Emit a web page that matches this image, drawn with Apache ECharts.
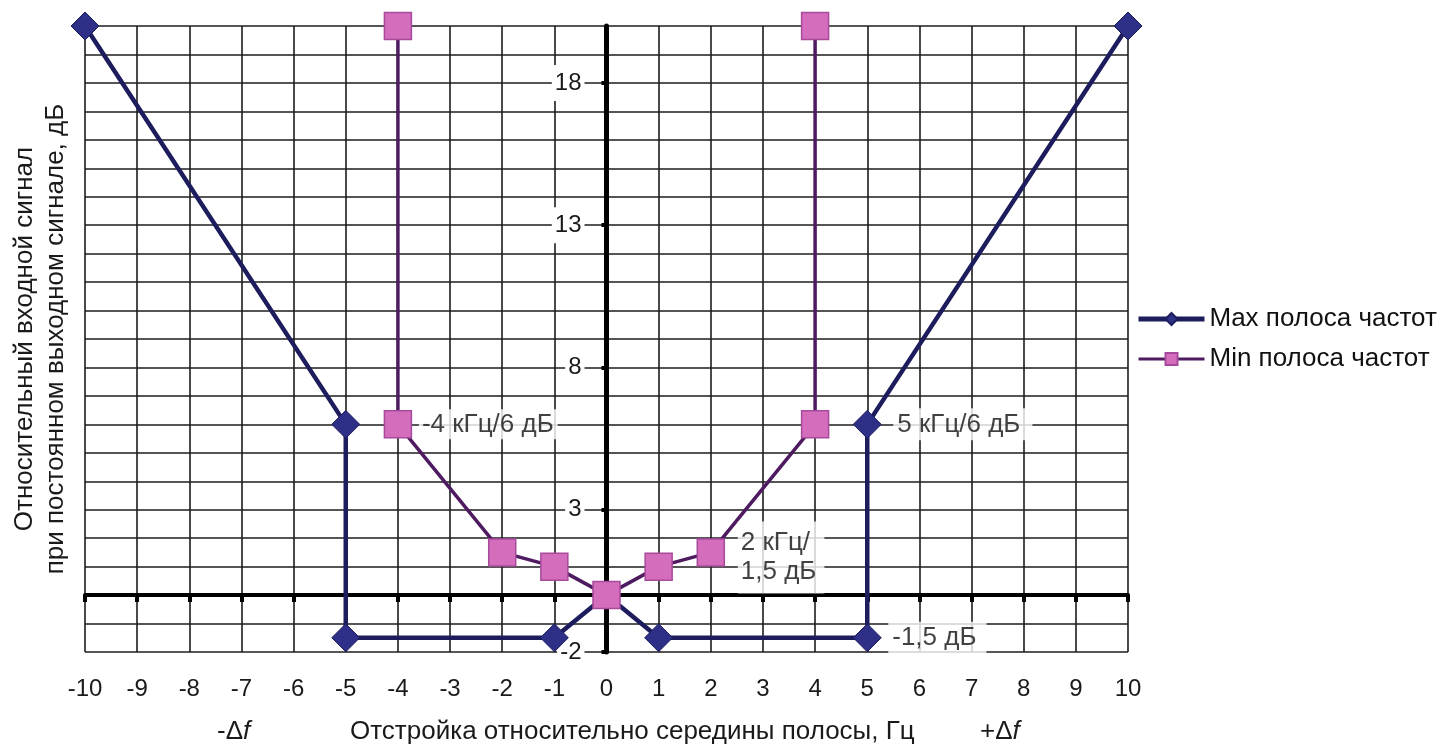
<!DOCTYPE html>
<html>
<head>
<meta charset="utf-8">
<script src="https://cdn.jsdelivr.net/npm/echarts@6/dist/echarts.min.js"></script>
<style>
  html, body { margin: 0; padding: 0; background: #fff; }
  #chart { width: 1445px; height: 751px; }
</style>
</head>
<body>
<div id="chart"></div>
<script>
// полосы частот: отстройка (кГц) / относительный входной сигнал (дБ)
var maxX = [-10, -5, -5, -1, 0, 1, 5, 5, 10];
var maxY = [20, 6, -1.5, -1.5, 0, -1.5, -1.5, 6, 20];
var minX = [-4, -4, -2, -1, 0, 1, 2, 4, 4];
var minY = [20, 6, 1.5, 1, 0, 1, 1.5, 6, 20];
var yTickLabels = [-2, 3, 8, 13, 18];
var noteX = [-4, 5, 2, 5];
var noteY = [6, 6, 1.5, -1.5];
var noteText = ['-4 кГц/6 дБ', '5 кГц/6 дБ', '2 кГц/\n1,5 дБ', '-1,5 дБ'];

var FONT = 'Liberation Sans, Arial, sans-serif';
var GRID_L = 85, GRID_R = 317, GRID_W = 1445 - GRID_L - GRID_R;

function pairs(xs, ys) {
  return xs.map(function (x, i) { return [x, ys[i]]; });
}

// рамки у подписей
var noteLabels = [
  { distance: 21, padding: [1, 4, 1, 3] },
  { distance: 26, padding: [2, 12, 2, 4] },
  { distance: 27, padding: [11, 8, 3, 3], offset: [0, 5], lineHeight: 29 },
  { distance: 21, padding: [3, 10, 1, 4] }
];
var noteData = noteX.map(function (x, i) {
  var l = noteLabels[i];
  return {
    value: [x, noteY[i]],
    label: {
      show: true, position: 'right', formatter: noteText[i],
      distance: l.distance, padding: l.padding, offset: l.offset || [0, 0],
      lineHeight: l.lineHeight || 28
    }
  };
});

var chart = echarts.init(document.getElementById('chart'));
var option = {
  animation: false,
  textStyle: { fontFamily: FONT },
  grid: { left: GRID_L, right: GRID_R, top: 26, bottom: 99 },
  legend: {
    orient: 'vertical', left: 1136, top: 306, padding: 0,
    itemWidth: 66, itemHeight: 15, itemGap: 14,
    data: [
      { name: 'Max полоса частот', lineStyle: { width: 5 } },
      { name: 'Min полоса частот', lineStyle: { width: 3 } }
    ],
    textStyle: { fontSize: 26, color: '#111', fontFamily: FONT }
  },
  xAxis: [{
    type: 'value', min: -10, max: 10, interval: 1, position: 'bottom',
    axisLine: { show: false, onZero: false },
    axisTick: { show: false },
    axisLabel: { fontSize: 24, color: '#1a1a1a', margin: 25 },
    splitLine: { show: true, lineStyle: { color: '#1c1c1c', width: 1.6 } },
    z: 0
  }, {
    type: 'value', min: -10, max: 10, interval: 1, position: 'top',
    axisLine: { show: true, onZero: true, lineStyle: { color: '#000', width: 4 } },
    axisTick: { show: true, inside: true, length: 7, lineStyle: { color: '#000', width: 4 } },
    axisLabel: { show: false },
    splitLine: { show: false },
    z: 1
  }],
  yAxis: [{
    type: 'value', min: -2, max: 20, interval: 1, position: 'left',
    name: 'Относительный входной сигнал\nпри постоянном выходном сигнале, дБ',
    nameLocation: 'middle', nameRotate: 90, nameGap: 14,
    nameTextStyle: { fontSize: 26, color: '#1a1a1a', lineHeight: 31 },
    axisLine: { show: false, onZero: false },
    axisTick: { show: false },
    axisLabel: { show: false },
    splitLine: { show: true, lineStyle: { color: '#1c1c1c', width: 1.6 } },
    z: 0
  }, {
    // ось на нуле: сдвиг к центру сетки
    type: 'value', min: -2, max: 20, interval: 1, position: 'left',
    offset: -GRID_W / 2,
    axisLine: { show: true, onZero: false, lineStyle: { color: '#000', width: 5 } },
    axisTick: { show: true, length: 5, customValues: yTickLabels, lineStyle: { color: '#000', width: 4 } },
    axisLabel: {
      customValues: yTickLabels, fontSize: 24, color: '#1a1a1a', margin: 22,
      backgroundColor: '#fff', padding: [6, 3]
    },
    splitLine: { show: false },
    z: 1
  }],
  series: [{
    name: 'Max полоса частот', type: 'line',
    data: pairs(maxX, maxY),
    symbol: 'diamond', symbolSize: 28,
    lineStyle: { color: '#1d1d5e', width: 4.5 },
    itemStyle: { color: '#2e3088', borderColor: '#1d1d5e', borderWidth: 1 },
    z: 2
  }, {
    name: 'Min полоса частот', type: 'line',
    data: pairs(minX, minY),
    symbol: 'rect', symbolSize: 27,
    lineStyle: { color: '#4e1a60', width: 3.5 },
    itemStyle: { color: '#d56dbd', borderColor: '#a84a9c', borderWidth: 1.5 },
    z: 3
  }, {
    name: 'notes', type: 'scatter',
    data: noteData, symbolSize: 0,
    silent: true,
    label: { fontSize: 26, color: '#111', backgroundColor: '#fff' },
    z: 4
  }],
  graphic: [{
    type: 'text', left: 217, top: 719,
    style: { text: '-Δ{i|f}', fontSize: 26, fontFamily: FONT, fill: '#1a1a1a',
      rich: { i: { fontStyle: 'italic', fontSize: 26, fontFamily: FONT } } }
  }, {
    type: 'text', left: 350, top: 719,
    style: { text: 'Отстройка относительно середины полосы, Гц', fontSize: 26, fontFamily: FONT, fill: '#1a1a1a' }
  }, {
    type: 'text', left: 980, top: 719,
    style: { text: '+Δ{i|f}', fontSize: 26, fontFamily: FONT, fill: '#1a1a1a',
      rich: { i: { fontStyle: 'italic', fontSize: 26, fontFamily: FONT } } }
  }]
};
chart.setOption(option);
</script>
</body>
</html>
